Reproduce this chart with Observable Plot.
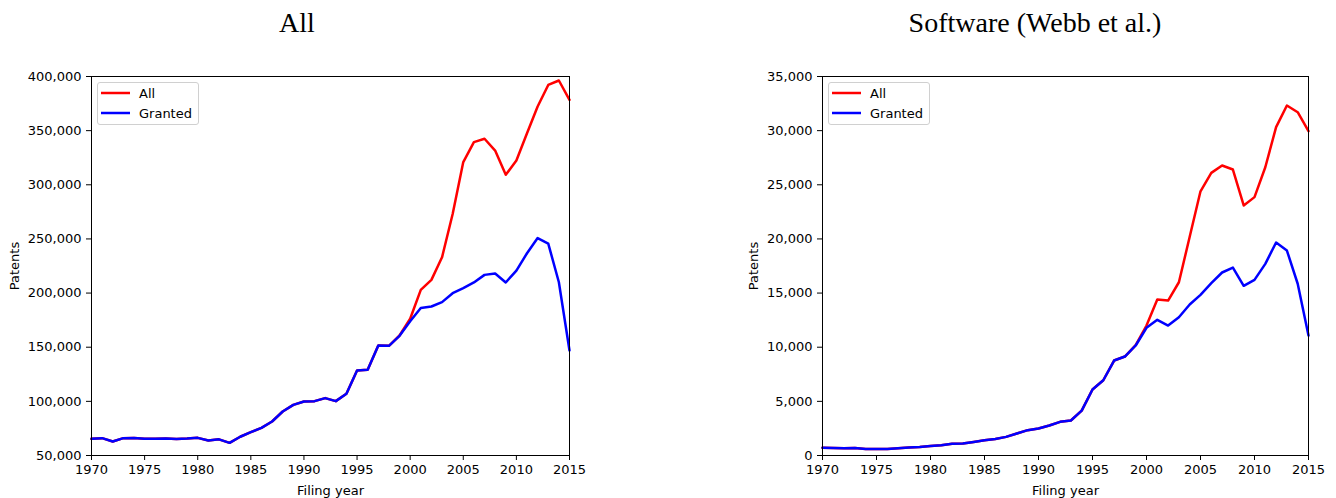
<!DOCTYPE html>
<html>
<head>
<meta charset="utf-8">
<script src="https://cdn.jsdelivr.net/npm/d3@7"></script>
<script src="https://cdn.jsdelivr.net/npm/@observablehq/plot@0.6"></script>
<style>
  body { margin: 0; background: #fff; }
  #wrap { position: relative; width: 1336px; height: 498px; overflow: hidden; font-family: "DejaVu Sans", sans-serif; }
  .panel { position: absolute; top: 0; width: 668px; height: 498px; }
  .panel svg.plot { position: absolute; top: 50px; left: 0; }
  .title { position: absolute; top: 9px; font-family: "Liberation Serif", serif; font-size: 28px; line-height: 1; transform: translateX(-50%); white-space: nowrap; color: #000; }
  .legend { position: absolute; width: 100px; height: 41px; border: 1px solid #d0d0d0; border-radius: 3px; background: rgba(255,255,255,0.8); font-size: 13px; color: #000; }
  .legend .row { position: absolute; left: 3px; height: 16px; display: flex; align-items: center; }
  .legend .row span { margin-left: 9px; }
</style>
</head>
<body>
<div id="wrap"></div>
<script>
// ---- data ----
const years = [1970,1971,1972,1973,1974,1975,1976,1977,1978,1979,
               1980,1981,1982,1983,1984,1985,1986,1987,1988,1989,
               1990,1991,1992,1993,1994,1995,1996,1997,1998,1999,
               2000,2001,2002,2003,2004,2005,2006,2007,2008,2009,
               2010,2011,2012,2013,2014,2015];

const allPatentsAll = [65400,66000,62900,66000,66200,65400,65400,65600,65200,65600,
                       66300,63900,64900,61700,67300,71500,75500,81400,90600,96800,
                       99900,100200,103000,100200,107000,128500,129100,151600,151300,160800,
                       176300,203000,212200,233000,273000,321000,339400,342500,331600,309200,
                       322400,347600,372300,392200,396300,378400];
const allPatentsGranted = [65400,66000,62900,66000,66200,65400,65400,65600,65200,65600,
                           66300,63900,64900,61700,67300,71500,75500,81400,90600,96800,
                           99900,100200,103000,100200,107000,128500,129100,151600,151300,160500,
                           174000,186300,187600,191600,199900,204600,209800,216800,218100,209800,
                           220800,236800,250800,245700,210000,147000];

const softwareAll = [710,700,680,700,600,590,590,680,750,790,
                     870,950,1080,1100,1250,1410,1530,1720,2030,2340,
                     2490,2770,3110,3230,4150,6100,6950,8770,9140,10200,
                     12000,14410,14310,16000,20200,24400,26100,26780,26410,23090,
                     23860,26620,30320,32320,31700,29950];
const softwareGranted = [710,700,680,700,600,590,590,680,750,790,
                         870,950,1080,1100,1250,1410,1530,1720,2030,2340,
                         2490,2770,3110,3230,4150,6100,6950,8770,9140,10160,
                         11790,12530,12000,12770,13940,14840,15910,16900,17360,15670,
                         16220,17700,19670,18930,15860,11080];

const xTicks = [1970,1975,1980,1985,1990,1995,2000,2005,2010,2015];
const yTicksAll = [50000,100000,150000,200000,250000,300000,350000,400000];
const yTicksSoftware = [0,5000,10000,15000,20000,25000,30000,35000];

const titles = ["All", "Software (Webb et al.)"];
const seriesNames = ["All", "Granted"];
const seriesColors = ["#ff0000", "#0000ff"];

// ---- drawing ----
const wrap = document.getElementById("wrap");

function makePanel(opts) {
  const panel = document.createElement("div");
  panel.className = "panel";
  panel.style.left = opts.left + "px";

  const data = years.map((y, i) => ({year: y, all: opts.all[i], granted: opts.granted[i]}));

  const chart = Plot.plot({
    width: 668,
    height: 448,
    marginLeft: opts.marginLeft,
    marginRight: opts.marginRight,
    marginTop: 26,
    marginBottom: 43,
    style: {fontFamily: "DejaVu Sans, sans-serif", fontSize: "13px", color: "#000", background: "transparent"},
    x: {
      domain: [1970, 2015],
      ticks: xTicks,
      tickFormat: d => String(d),
      tickSize: 5,
      tickPadding: 4,
      label: "Filing year",
      labelAnchor: "center",
      labelArrow: "none",
      labelOffset: 39
    },
    y: {
      domain: opts.yDomain,
      ticks: opts.yTicks,
      tickFormat: d3.format(","),
      tickSize: 5,
      tickPadding: 5,
      label: "Patents",
      labelAnchor: "center",
      labelArrow: "none",
      labelOffset: opts.yLabelOffset
    },
    marks: [
      Plot.line(data, {x: "year", y: "all", stroke: seriesColors[0], strokeWidth: 2.5}),
      Plot.line(data, {x: "year", y: "granted", stroke: seriesColors[1], strokeWidth: 2.5}),
      Plot.frame({stroke: "#000", strokeWidth: 1})
    ]
  });
  chart.classList.add("plot");
  panel.appendChild(chart);

  const title = document.createElement("div");
  title.className = "title";
  title.textContent = opts.title;
  title.style.left = opts.titleX + "px";
  panel.appendChild(title);

  const legend = document.createElement("div");
  legend.className = "legend";
  legend.style.left = (opts.marginLeft + 6) + "px";
  legend.style.top = "82px";
  seriesNames.forEach((name, i) => {
    const row = document.createElement("div");
    row.className = "row";
    row.style.top = (2 + i * 20) + "px";
    row.innerHTML = `<svg width="29" height="6"><line x1="0" x2="29" y1="3" y2="3" stroke="${seriesColors[i]}" stroke-width="2.5"/></svg><span>${name}</span>`;
    legend.appendChild(row);
  });
  panel.appendChild(legend);

  wrap.appendChild(panel);
}

makePanel({
  left: 0, marginLeft: 91, marginRight: 99,
  all: allPatentsAll, granted: allPatentsGranted,
  yDomain: [50000, 400000], yTicks: yTicksAll, yLabelOffset: 82,
  title: titles[0], titleX: 297
});
makePanel({
  left: 668, marginLeft: 154, marginRight: 28,
  all: softwareAll, granted: softwareGranted,
  yDomain: [0, 35000], yTicks: yTicksSoftware, yLabelOffset: 74,
  title: titles[1], titleX: 367
});
</script>
</body>
</html>
